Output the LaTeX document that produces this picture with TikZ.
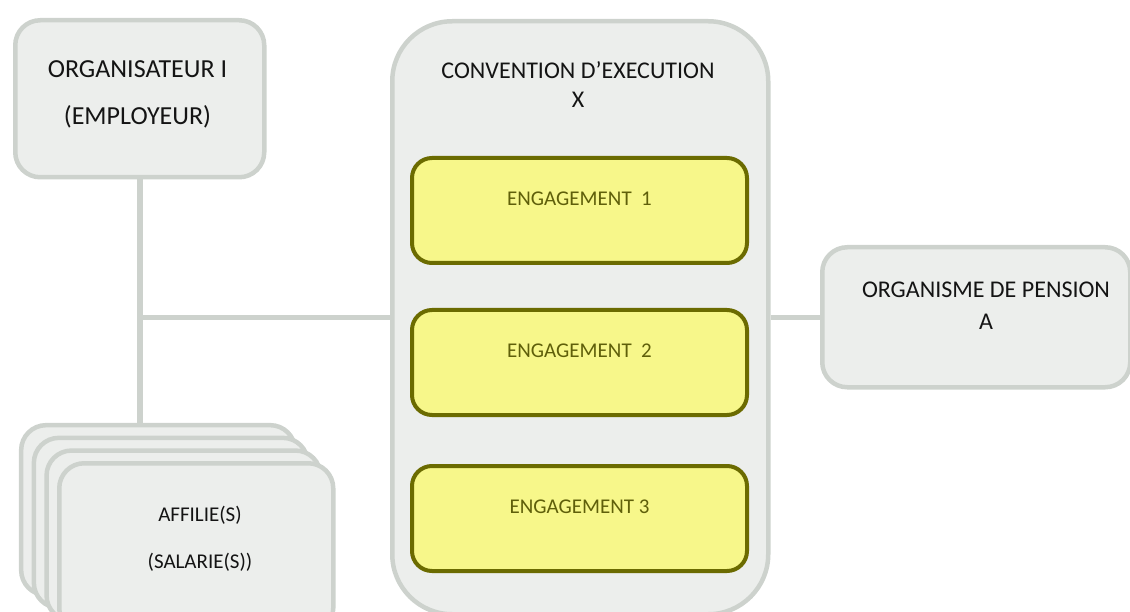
\documentclass[tikz,border=0pt]{standalone}
\usepackage{fontspec}
\setmainfont{Carlito}
\definecolor{boxgray}{HTML}{ECEEEC}
\definecolor{linegray}{HTML}{CDD2CD}
\definecolor{engborder}{HTML}{6B6B00}
\definecolor{engfill}{HTML}{F7F78A}
\definecolor{engtext}{HTML}{5F5F0A}
\begin{document}
\begin{tikzpicture}[x=1pt,y=-1pt,
		graybox/.style={draw=linegray, fill=boxgray, line width=4.5pt, rounded corners=25pt, inner sep=0pt, anchor=north west},
		engbox/.style={draw=engborder, fill=engfill, line width=4pt, rounded corners=20pt, inner sep=0pt, anchor=north west, minimum width=335pt, minimum height=105pt},
		link/.style={draw=linegray, line width=5.5pt},
		txt/.style={align=center, text=black!92, inner sep=0pt}]
	\useasboundingbox (0,0) rectangle (1130,612);
	\clip (0,0) rectangle (1130,612);
	% boites grises
	\node[graybox, minimum width=249pt, minimum height=157pt] (org) at (13,18) {};
	\node[graybox, minimum width=376pt, minimum height=593pt, rounded corners=60pt] (conv) at (390,19) {};
	\node[graybox, minimum width=308pt, minimum height=140pt] (pens) at (820,245) {};
	\foreach \i in {3,2,1,0}
		\node[graybox, minimum width=274pt, minimum height=170pt] (aff\i) at ({57-12.7*\i},{461-12.7*\i}) {};
	% engagements
	\foreach \n/\y/\lab in {1/156/{ENGAGEMENT\ \ 1}, 2/308/{ENGAGEMENT\ \ 2}, 3/464/{ENGAGEMENT 3}} {
		\node[engbox] (eng\n) at (410,\y) {};
		\node[txt, text=engtext, font=\fontsize{21}{25}\selectfont, yshift=-43pt] (eng\n txt) at (eng\n.north) {\lab};
	}
	% liens
	\draw[link] (org.south) -- (org.south |- aff3.north);
	\draw[link] (org.south |- conv.west) -- (conv.west);
	\draw[link] (conv.east) -- (conv.east -| pens.west);
	% textes
	\node[txt, font=\fontsize{26}{47}\selectfont] (orgtxt) at (137.5,94.5) {ORGANISATEUR I\\(EMPLOYEUR)};
	\node[txt, font=\fontsize{24}{29}\selectfont] (convtxt) at (578,84.5) {CONVENTION D’EXECUTION\\X};
	\node[txt, font=\fontsize{24}{32}\selectfont] (penstxt) at (986,306) {ORGANISME DE PENSION\\A};
	\node[txt, font=\fontsize{21}{47}\selectfont] (afftxt) at (200,538.5) {AFFILIE(S)\\(SALARIE(S))};
\end{tikzpicture}
\end{document}
